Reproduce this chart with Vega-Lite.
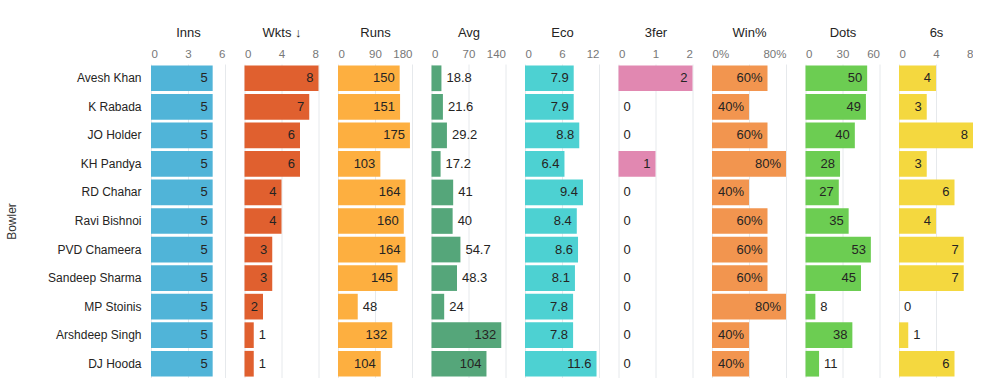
{
  "$schema": "https://vega.github.io/schema/vega-lite/v6.json",
  "padding": {"left": 5, "top": 26, "right": 0, "bottom": 0},
  "spacing": 19.5,
  "bounds": "flush",
  "data": {"values": [
    {"Bowler": "Avesh Khan", "Inns": 5, "Wkts": 8, "Runs": 150, "Avg": 18.8, "Eco": 7.9, "Threefer": 2, "WinPct": 0.6, "Dots": 50, "Sixes": 4},
    {"Bowler": "K Rabada", "Inns": 5, "Wkts": 7, "Runs": 151, "Avg": 21.6, "Eco": 7.9, "Threefer": 0, "WinPct": 0.4, "Dots": 49, "Sixes": 3},
    {"Bowler": "JO Holder", "Inns": 5, "Wkts": 6, "Runs": 175, "Avg": 29.2, "Eco": 8.8, "Threefer": 0, "WinPct": 0.6, "Dots": 40, "Sixes": 8},
    {"Bowler": "KH Pandya", "Inns": 5, "Wkts": 6, "Runs": 103, "Avg": 17.2, "Eco": 6.4, "Threefer": 1, "WinPct": 0.8, "Dots": 28, "Sixes": 3},
    {"Bowler": "RD Chahar", "Inns": 5, "Wkts": 4, "Runs": 164, "Avg": 41, "Eco": 9.4, "Threefer": 0, "WinPct": 0.4, "Dots": 27, "Sixes": 6},
    {"Bowler": "Ravi Bishnoi", "Inns": 5, "Wkts": 4, "Runs": 160, "Avg": 40, "Eco": 8.4, "Threefer": 0, "WinPct": 0.6, "Dots": 35, "Sixes": 4},
    {"Bowler": "PVD Chameera", "Inns": 5, "Wkts": 3, "Runs": 164, "Avg": 54.7, "Eco": 8.6, "Threefer": 0, "WinPct": 0.6, "Dots": 53, "Sixes": 7},
    {"Bowler": "Sandeep Sharma", "Inns": 5, "Wkts": 3, "Runs": 145, "Avg": 48.3, "Eco": 8.1, "Threefer": 0, "WinPct": 0.6, "Dots": 45, "Sixes": 7},
    {"Bowler": "MP Stoinis", "Inns": 5, "Wkts": 2, "Runs": 48, "Avg": 24, "Eco": 7.8, "Threefer": 0, "WinPct": 0.8, "Dots": 8, "Sixes": 0},
    {"Bowler": "Arshdeep Singh", "Inns": 5, "Wkts": 1, "Runs": 132, "Avg": 132, "Eco": 7.8, "Threefer": 0, "WinPct": 0.4, "Dots": 38, "Sixes": 1},
    {"Bowler": "DJ Hooda", "Inns": 5, "Wkts": 1, "Runs": 104, "Avg": 104, "Eco": 11.6, "Threefer": 0, "WinPct": 0.4, "Dots": 11, "Sixes": 6}
  ]},
  "hconcat": [
    {
      "width": 74, "height": 314,
      "encoding": {
        "y": {"field": "Bowler", "type": "nominal", "sort": null, "scale": {"paddingInner": 0.1, "paddingOuter": 0.05},
              "axis": {"title": "Bowler", "labelFontSize": 12, "labelColor": "#252423", "labelPadding": 10, "titlePadding": 29, "titleFontSize": 12, "titleColor": "#333333"}},
        "x": {"field": "Inns", "type": "quantitative", "scale": {"domain": [0, 6]}, "axis": {"orient": "top", "title": "Inns", "values": [0, 3, 6], "format": "d"}}
      },
      "layer": [
        {"mark": {"type": "bar", "color": "#50B4D8"}},
        {"transform": [{"filter": "datum.Inns >= 1"}], "mark": {"type": "text", "align": "right", "dx": -5, "fontSize": 13, "color": "#252423"}, "encoding": {"text": {"field": "Inns", "type": "quantitative"}}}
      ]
    },
    {
      "width": 74, "height": 314,
      "encoding": {
        "y": {"field": "Bowler", "type": "nominal", "sort": null, "scale": {"paddingInner": 0.1, "paddingOuter": 0.05}, "axis": null},
        "x": {"field": "Wkts", "type": "quantitative", "scale": {"domain": [0, 8]}, "axis": {"orient": "top", "title": "Wkts ↓", "values": [0, 4, 8], "format": "d"}}
      },
      "layer": [
        {"mark": {"type": "bar", "color": "#E0602F"}},
        {"transform": [{"filter": "datum.Wkts >= 2"}], "mark": {"type": "text", "align": "right", "dx": -5, "fontSize": 13, "color": "#252423"}, "encoding": {"text": {"field": "Wkts", "type": "quantitative"}}},
        {"transform": [{"filter": "datum.Wkts < 2"}], "mark": {"type": "text", "align": "left", "dx": 5, "fontSize": 13, "color": "#252423"}, "encoding": {"text": {"field": "Wkts", "type": "quantitative"}}}
      ]
    },
    {
      "width": 74, "height": 314,
      "encoding": {
        "y": {"field": "Bowler", "type": "nominal", "sort": null, "scale": {"paddingInner": 0.1, "paddingOuter": 0.05}, "axis": null},
        "x": {"field": "Runs", "type": "quantitative", "scale": {"domain": [0, 180]}, "axis": {"orient": "top", "title": "Runs", "values": [0, 90, 180], "format": "d"}}
      },
      "layer": [
        {"mark": {"type": "bar", "color": "#FDAF40"}},
        {"transform": [{"filter": "datum.Runs >= 80"}], "mark": {"type": "text", "align": "right", "dx": -5, "fontSize": 13, "color": "#252423"}, "encoding": {"text": {"field": "Runs", "type": "quantitative"}}},
        {"transform": [{"filter": "datum.Runs < 80"}], "mark": {"type": "text", "align": "left", "dx": 5, "fontSize": 13, "color": "#252423"}, "encoding": {"text": {"field": "Runs", "type": "quantitative"}}}
      ]
    },
    {
      "width": 74, "height": 314,
      "encoding": {
        "y": {"field": "Bowler", "type": "nominal", "sort": null, "scale": {"paddingInner": 0.1, "paddingOuter": 0.05}, "axis": null},
        "x": {"field": "Avg", "type": "quantitative", "scale": {"domain": [0, 140]}, "axis": {"orient": "top", "title": "Avg", "values": [0, 70, 140], "format": "d"}}
      },
      "layer": [
        {"mark": {"type": "bar", "color": "#55A67A"}},
        {"transform": [{"filter": "datum.Avg >= 70"}], "mark": {"type": "text", "align": "right", "dx": -5, "fontSize": 13, "color": "#252423"}, "encoding": {"text": {"field": "Avg", "type": "quantitative"}}},
        {"transform": [{"filter": "datum.Avg < 70"}], "mark": {"type": "text", "align": "left", "dx": 5, "fontSize": 13, "color": "#252423"}, "encoding": {"text": {"field": "Avg", "type": "quantitative"}}}
      ]
    },
    {
      "width": 74, "height": 314,
      "encoding": {
        "y": {"field": "Bowler", "type": "nominal", "sort": null, "scale": {"paddingInner": 0.1, "paddingOuter": 0.05}, "axis": null},
        "x": {"field": "Eco", "type": "quantitative", "scale": {"domain": [0, 12]}, "axis": {"orient": "top", "title": "Eco", "values": [0, 6, 12], "format": "d"}}
      },
      "layer": [
        {"mark": {"type": "bar", "color": "#4DD1D2"}},
        {"mark": {"type": "text", "align": "right", "dx": -5, "fontSize": 13, "color": "#252423"}, "encoding": {"text": {"field": "Eco", "type": "quantitative"}}}
      ]
    },
    {
      "width": 74, "height": 314,
      "encoding": {
        "y": {"field": "Bowler", "type": "nominal", "sort": null, "scale": {"paddingInner": 0.1, "paddingOuter": 0.05}, "axis": null},
        "x": {"field": "Threefer", "type": "quantitative", "scale": {"domain": [0, 2]}, "axis": {"orient": "top", "title": "3fer", "values": [0, 1, 2], "labelExpr": "'' + datum.value"}}
      },
      "layer": [
        {"mark": {"type": "bar", "color": "#E188B1"}},
        {"transform": [{"filter": "datum.Threefer >= 1"}], "mark": {"type": "text", "align": "right", "dx": -5, "fontSize": 13, "color": "#252423"}, "encoding": {"text": {"field": "Threefer", "type": "quantitative"}}},
        {"transform": [{"filter": "datum.Threefer < 1"}], "mark": {"type": "text", "align": "left", "dx": 5, "fontSize": 13, "color": "#252423"}, "encoding": {"text": {"field": "Threefer", "type": "quantitative"}}}
      ]
    },
    {
      "width": 74, "height": 314,
      "encoding": {
        "y": {"field": "Bowler", "type": "nominal", "sort": null, "scale": {"paddingInner": 0.1, "paddingOuter": 0.05}, "axis": null},
        "x": {"field": "WinPct", "type": "quantitative", "scale": {"domain": [0, 0.8]}, "axis": {"orient": "top", "title": "Win%", "values": [0, 0.4, 0.8], "labelExpr": "datum.value == 0.4 ? '' : format(datum.value, '.0%')"}}
      },
      "layer": [
        {"mark": {"type": "bar", "color": "#F2954F"}},
        {"mark": {"type": "text", "align": "right", "dx": -5, "fontSize": 13, "color": "#252423"}, "encoding": {"text": {"field": "WinPct", "type": "quantitative", "format": ".0%"}}}
      ]
    },
    {
      "width": 74, "height": 314,
      "encoding": {
        "y": {"field": "Bowler", "type": "nominal", "sort": null, "scale": {"paddingInner": 0.1, "paddingOuter": 0.05}, "axis": null},
        "x": {"field": "Dots", "type": "quantitative", "scale": {"domain": [0, 60]}, "axis": {"orient": "top", "title": "Dots", "values": [0, 30, 60], "format": "d"}}
      },
      "layer": [
        {"mark": {"type": "bar", "color": "#6CCD52"}},
        {"transform": [{"filter": "datum.Dots >= 20"}], "mark": {"type": "text", "align": "right", "dx": -5, "fontSize": 13, "color": "#252423"}, "encoding": {"text": {"field": "Dots", "type": "quantitative"}}},
        {"transform": [{"filter": "datum.Dots < 20"}], "mark": {"type": "text", "align": "left", "dx": 5, "fontSize": 13, "color": "#252423"}, "encoding": {"text": {"field": "Dots", "type": "quantitative"}}}
      ]
    },
    {
      "width": 74, "height": 314,
      "encoding": {
        "y": {"field": "Bowler", "type": "nominal", "sort": null, "scale": {"paddingInner": 0.1, "paddingOuter": 0.05}, "axis": null},
        "x": {"field": "Sixes", "type": "quantitative", "scale": {"domain": [0, 8]}, "axis": {"orient": "top", "title": "6s", "values": [0, 4, 8], "format": "d"}}
      },
      "layer": [
        {"mark": {"type": "bar", "color": "#F4D83F"}},
        {"transform": [{"filter": "datum.Sixes >= 2"}], "mark": {"type": "text", "align": "right", "dx": -5, "fontSize": 13, "color": "#252423"}, "encoding": {"text": {"field": "Sixes", "type": "quantitative"}}},
        {"transform": [{"filter": "datum.Sixes < 2"}], "mark": {"type": "text", "align": "left", "dx": 5, "fontSize": 13, "color": "#252423"}, "encoding": {"text": {"field": "Sixes", "type": "quantitative"}}}
      ]
    }
  ],
  "config": {
    "view": {"stroke": null},
    "font": "Liberation Sans",
    "axis": {
      "domain": false,
      "ticks": false,
      "labelOverlap": false,
      "gridColor": "#E6E9EC",
      "labelColor": "#777777",
      "labelFontSize": 11.5,
      "titleFontWeight": "normal",
      "titleFontSize": 13,
      "titleColor": "#252423",
      "labelPadding": 5,
      "titlePadding": 9
    }
  }
}
